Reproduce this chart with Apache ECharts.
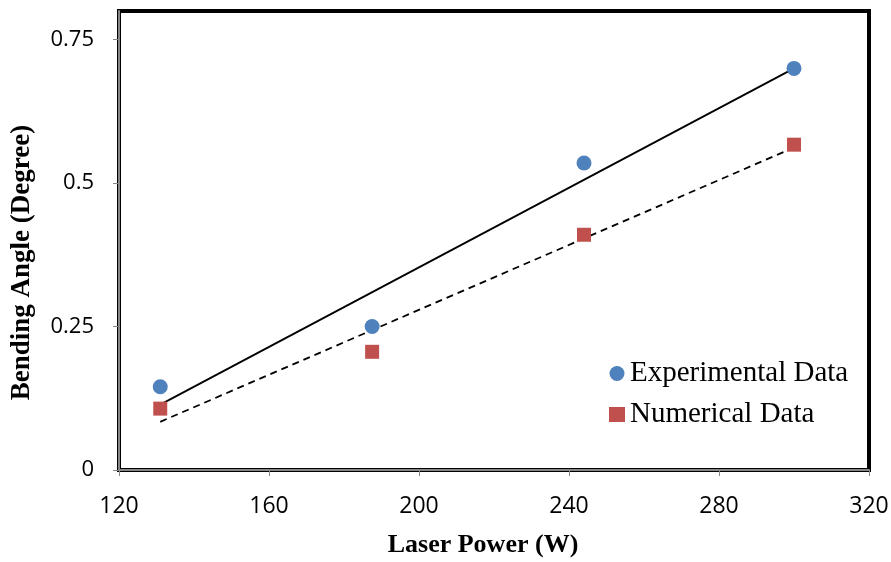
<!DOCTYPE html>
<html><head><meta charset="utf-8">
<script src="https://cdn.jsdelivr.net/npm/echarts@6/dist/echarts.min.js"></script>
<style>html,body{margin:0;padding:0;background:#fff}#c{width:891px;height:562px}</style>
</head><body><div id="c"></div>
<script>
const laserPower = [131, 187.5, 244, 300];
const experimental = [0.145, 0.25, 0.535, 0.70];
const numerical = [0.107, 0.206, 0.41, 0.567];
const expTrendX = [131, 300];
const expTrendY = [0.114, 0.70];
const numTrendX = [131, 300];
const numTrendY = [0.084, 0.562];
const xTicks = [120, 160, 200, 240, 280, 320];
const yTicks = [0, 0.25, 0.5, 0.75];

const zip = (xs, ys) => xs.map((x, i) => [x, ys[i]]);
const chart = echarts.init(document.getElementById('c'), null, {renderer: 'canvas'});
chart.setOption({
  animation: false,
  grid: {left: 119, right: 22, top: 11, bottom: 92, show: true, borderColor: '#000', borderWidth: 4,
         backgroundColor: '#fff', containLabel: false, outerBoundsMode: 'none'},
  xAxis: {
    type: 'value', min: 120, max: 320, interval: 40,
    name: 'Laser Power (W)', nameLocation: 'middle', nameGap: 62,
    nameTextStyle: {fontFamily: 'Liberation Serif', fontWeight: 'bold', fontSize: 26, color: '#000', padding: [0, 22, 0, 0]},
    axisLine: {show: true, lineStyle: {color: '#868686', width: 2}},
    axisTick: {show: true, length: 6, customValues: xTicks, lineStyle: {color: '#868686', width: 1}},
    axisLabel: {margin: 25, fontFamily: 'Open Sans', fontSize: 23, color: '#000', customValues: xTicks},
    splitLine: {show: false}
  },
  yAxis: {
    type: 'value', min: 0, max: 0.8,
    name: 'Bending Angle (Degree)', nameLocation: 'middle', nameGap: 83,
    nameTextStyle: {fontFamily: 'Liberation Serif', fontWeight: 'bold', fontSize: 27, color: '#000', padding: [0, 44, 0, 0]},
    axisLine: {show: true, lineStyle: {color: '#868686', width: 2}},
    axisTick: {show: true, length: 6, customValues: yTicks, lineStyle: {color: '#868686', width: 1}},
    axisLabel: {margin: 25, fontFamily: 'Open Sans', fontSize: 22, color: '#000', customValues: yTicks},
    splitLine: {show: false}
  },
  legend: {
    left: 604, top: 354, orient: 'vertical', itemGap: 12, itemWidth: 16, itemHeight: 15,
    textStyle: {fontFamily: 'Liberation Serif', fontSize: 29, lineHeight: 28, color: '#000'},
    data: [{name: 'Experimental Data', icon: 'circle'}, {name: 'Numerical Data', icon: 'rect'}]
  },
  series: [
    {name: 'expTrend', type: 'line', data: zip(expTrendX, expTrendY), showSymbol: false, symbol: 'none',
     lineStyle: {color: '#000', width: 1.8}, z: 1, silent: true},
    {name: 'numTrend', type: 'line', data: zip(numTrendX, numTrendY), showSymbol: false, symbol: 'none',
     lineStyle: {color: '#000', width: 1.8, type: [7, 5]}, z: 1, silent: true},
    {name: 'Experimental Data', type: 'scatter', data: zip(laserPower, experimental), symbol: 'circle', symbolSize: 15,
     itemStyle: {color: '#4F81BD', opacity: 1}, z: 3},
    {name: 'Numerical Data', type: 'scatter', data: zip(laserPower, numerical), symbol: 'rect', symbolSize: 14,
     itemStyle: {color: '#C0504D', opacity: 1}, z: 3}
  ]
});
</script></body></html>
